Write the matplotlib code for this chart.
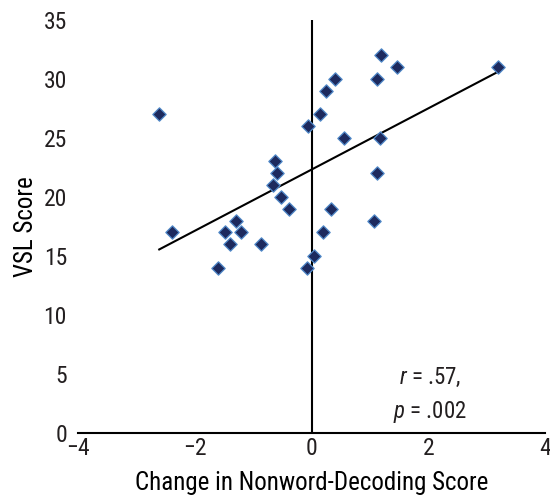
import numpy as np
import matplotlib.pyplot as plt

# change in nonword-decoding score vs VSL score
decoding_change = [-2.61, -2.39, -1.61, -1.48, -1.40, -1.30, -1.21, -0.87,
                   -0.63, -0.59, -0.66, -0.52, -0.38, -0.06, 0.14, -0.07,
                   0.05, 0.19, 0.33, 0.25, 0.40, 1.19, 1.46, 1.12, 0.55,
                   1.17, 1.12, 1.07, 3.19]
vsl_score = [27, 17, 14, 17, 16, 18, 17, 16,
             23, 22, 21, 20, 19, 26, 27, 14,
             15, 17, 19, 29, 30, 32, 31, 30, 25,
             25, 22, 18, 31]
x_ticks = [-4, -2, 0, 2, 4]
y_ticks = [0, 5, 10, 15, 20, 25, 30, 35]
stats_text = "$r$ = .57,\n$p$ = .002"

plt.rcParams['font.family'] = ['Roboto Condensed', 'DejaVu Sans']
plt.rcParams['mathtext.fontset'] = 'custom'
plt.rcParams['mathtext.it'] = 'Roboto Condensed:italic'
plt.rcParams['mathtext.rm'] = 'Roboto Condensed'
plt.rcParams['text.color'] = '#231f20'

x = np.array(decoding_change)
y = np.array(vsl_score)

fig = plt.figure(figsize=(5.5, 4.96), dpi=100)
ax = fig.add_axes([0.142, 0.127, 0.849, 0.833])

ax.scatter(x, y, marker="D", s=46, color="#1d2a5e", edgecolors="#5088c8",
           linewidths=0.9, zorder=3)

# least-squares fit line across the data range
slope, intercept = np.polyfit(x, y, 1)
xf = np.array([x.min(), x.max()])
ax.plot(xf, slope * xf + intercept, color="black", linewidth=1.5, zorder=2)

ax.axvline(0, color="black", linewidth=1.5, zorder=1)

ax.set_xlim(-4, 4)
ax.set_ylim(0, 35)
ax.set_xticks(x_ticks)
ax.set_xticklabels(["\u22124", "\u22122", "0", "2", "4"])
ax.set_yticks(y_ticks)
ax.tick_params(length=0, labelsize=17, pad=3, labelcolor="#231f20")
ax.tick_params(axis="y", pad=8)

for side in ["top", "right", "left"]:
    ax.spines[side].set_visible(False)
ax.spines["bottom"].set_linewidth(1.5)

ax.set_xlabel("Change in Nonword-Decoding Score", fontsize=18, labelpad=8)
ax.set_ylabel("VSL Score", fontsize=18, labelpad=4)

ax.text(2.03, 3.2, stats_text, fontsize=16.5, ha="center", va="center",
        linespacing=1.5)

plt.savefig("out.png", dpi=100)
